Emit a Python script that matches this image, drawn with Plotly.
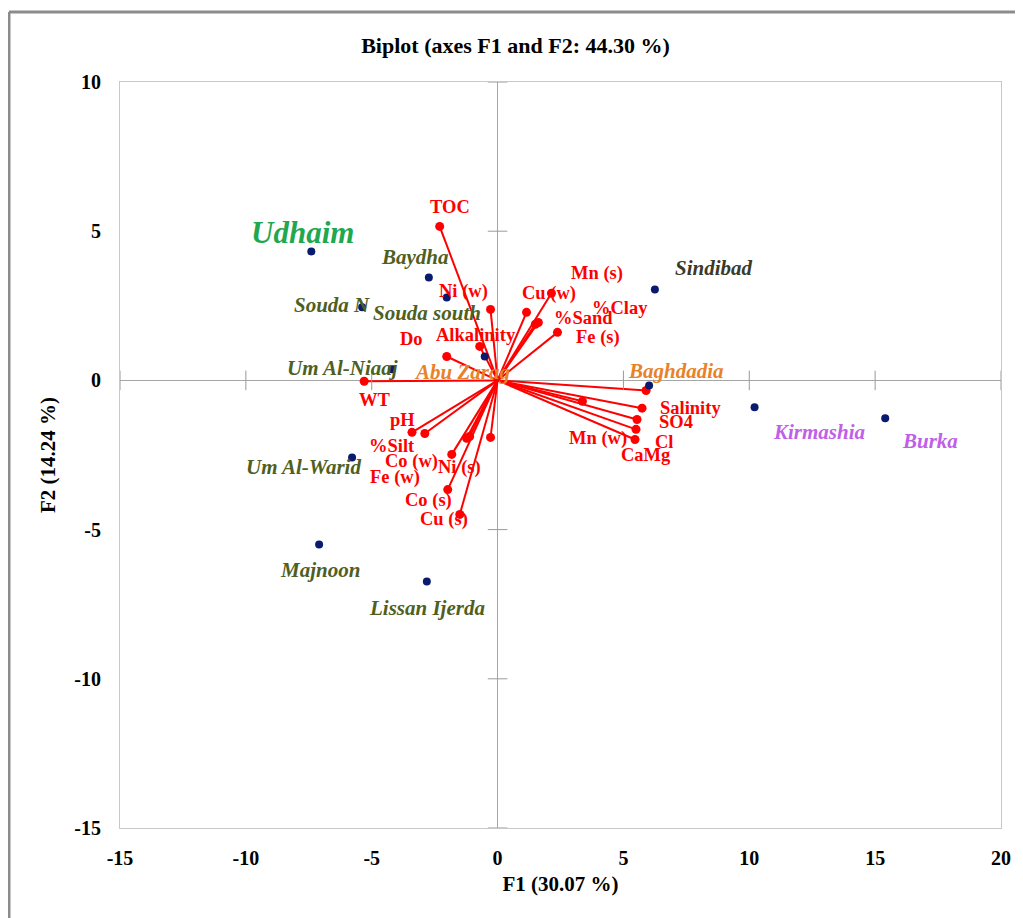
import plotly.graph_objects as go

# ---------------- data ----------------
obs_names = ["Udhaim", "Baydha", "Souda south", "Souda N", "Um Al-Niaaj", "Abu Zarag",
             "Sindibad", "Baghdadia", "Kirmashia", "Burka", "Um Al-Warid", "Majnoon", "Lissan Ijerda"]
obs_f1 = [-7.40, -2.73, -2.02, -5.38, -4.20, -0.51, 6.25, 6.02, 10.21, 15.40, -5.78, -7.09, -2.81]
obs_f2 = [4.32, 3.45, 2.78, 2.45, 0.37, 0.80, 3.05, -0.17, -0.90, -1.27, -2.58, -5.50, -6.74]

var_names = ["TOC", "Ni (w)", "Cu (w)", "Mn (s)", "%Clay", "%Sand", "Fe (s)", "Alkalinity", "Do", "WT",
             "", "Mn (w)", "Salinity", "SO4", "Cl", "CaMg",
             "pH", "%Silt", "Co (w)", "Fe (w)", "", "Ni (s)", "Co (s)", "Cu (s)"]
var_f1 = [-2.30, -0.28, 1.15, 2.14, 1.62, 1.50, 2.38, -0.71, -2.02, -5.30,
          5.90, 3.37, 5.74, 5.54, 5.50, 5.46,
          -3.40, -2.89, -1.82, -1.23, -1.11, -0.28, -1.98, -1.50]
var_f2 = [5.16, 2.38, 2.28, 2.92, 1.94, 1.88, 1.61, 1.14, 0.80, -0.03,
          -0.34, -0.70, -0.93, -1.31, -1.64, -1.98,
          -1.74, -1.78, -2.48, -1.94, -1.88, -1.91, -3.66, -4.49]

x_ticks = [-15, -10, -5, 0, 5, 10, 15, 20]
x_tick_labels = ["-15", "-10", "-5", "0", "5", "10", "15", "20"]
y_ticks = [-15, -10, -5, 0, 5, 10]
y_tick_labels = ["-15", "-10", "-5", "0", "5", "10"]

title = "Biplot (axes F1 and F2: 44.30 %)"
x_title = "F1 (30.07 %)"
y_title = "F2 (14.24 %)"

# ---------------- styles ----------------
FONT = "Liberation Serif"
OLIVE = "#4f5f22"
obs_colors = {"Udhaim": "#1fa84f", "Abu Zarag": "#e8822a", "Baghdadia": "#e8822a",
              "Kirmashia": "#c060e8", "Burka": "#c060e8", "Sindibad": "#3a3a2a"}
obs_sizes = {"Udhaim": 31}
# label offsets in pixels (dx right, dy down)
obs_offsets = {"Udhaim": (-9, -19), "Baydha": (-14, -20), "Souda south": (-20, 16),
               "Souda N": (-30, -2), "Um Al-Niaaj": (-49, -1), "Abu Zarag": (-23, 15),
               "Sindibad": (59, -21), "Baghdadia": (27, -14), "Kirmashia": (64, 25),
               "Burka": (45, 23), "Um Al-Warid": (-49, 10), "Majnoon": (1, 25),
               "Lissan Ijerda": (0, 26)}
var_offsets = [(10, -19), (-27, -18), (22, -19), (46, -20), (82, -15), (48, -6), (41, 5),
               (-4, -11), (-35, -18), (11, 19),
               (0, 0), (16, 37), (48, 0), (39, 3), (28, 13), (11, 16),
               (-9, -12), (-33, 12), (-40, 7), (-72, 39), (0, 0), (-31, 30), (-19, 11), (-16, 5)]

fig = go.Figure()

# vector lines
for vx, vy in zip(var_f1, var_f2):
    fig.add_trace(go.Scatter(x=[0, vx], y=[0, vy], mode="lines",
                             line=dict(color="#ff0000", width=2), hoverinfo="skip",
                             showlegend=False))

# tick crosses on zero axes
fig.add_trace(go.Scatter(x=[t for t in x_ticks if t != 0], y=[0] * (len(x_ticks) - 1),
                         mode="markers", marker=dict(symbol="line-ns-open", size=14, color="#9a9a9a",
                                                     line=dict(color="#9a9a9a", width=1)),
                         hoverinfo="skip", showlegend=False))
fig.add_trace(go.Scatter(x=[0] * (len(y_ticks) - 1), y=[t for t in y_ticks if t != 0],
                         mode="markers", marker=dict(symbol="line-ew-open", size=14, color="#9a9a9a",
                                                     line=dict(color="#9a9a9a", width=1)),
                         hoverinfo="skip", showlegend=False))

# variable points
fig.add_trace(go.Scatter(x=var_f1, y=var_f2, mode="markers",
                         marker=dict(color="#ff0000", size=9), showlegend=False))
# observation points
fig.add_trace(go.Scatter(x=obs_f1, y=obs_f2, mode="markers",
                         marker=dict(color="#0a1a6e", size=8), showlegend=False))

annotations = []
for n, x, y in zip(obs_names, obs_f1, obs_f2):
    dx, dy = obs_offsets[n]
    annotations.append(dict(x=x, y=y, xref="x", yref="y", text=n, showarrow=False,
                            xshift=dx, yshift=-dy,
                            font=dict(family=FONT, size=obs_sizes.get(n, 21),
                                      color=obs_colors.get(n, OLIVE), weight="bold",
                                      style="italic")))
for n, x, y, (dx, dy) in zip(var_names, var_f1, var_f2, var_offsets):
    if not n:
        continue
    annotations.append(dict(x=x, y=y, xref="x", yref="y", text=n, showarrow=False,
                            xshift=dx, yshift=-dy,
                            font=dict(family=FONT, size=18.5, color="#ff0000", weight="bold")))

fig.update_layout(
    width=1015, height=910,
    margin=dict(l=112, r=16, t=74, b=90),
    paper_bgcolor="white", plot_bgcolor="white",
    font=dict(family=FONT, size=18, color="black", weight="bold"),
    title=dict(text=title, x=0.5, xanchor="center", y=0.9593, yanchor="middle",
               font=dict(family=FONT, size=22, weight="bold")),
    annotations=annotations,
    shapes=[dict(type="line", xref="paper", yref="paper", x0=-0.126, x1=1.05, y0=1.094, y1=1.094,
                 line=dict(color="#8c8c8c", width=3)),
            dict(type="line", xref="paper", yref="paper", x0=-0.126, x1=-0.126, y0=1.094, y1=-0.15,
                 line=dict(color="#8c8c8c", width=3))],
    xaxis=dict(range=[-15, 20], tickvals=x_ticks, ticktext=x_tick_labels, showgrid=False,
               zeroline=True, zerolinecolor="#a6a6a6", zerolinewidth=1, showline=True, mirror=True,
               linecolor="#c8c8c8", linewidth=1, ticks="", ticklabelstandoff=12,
               tickfont=dict(family=FONT, size=20, weight="bold"),
               title=dict(text=x_title, standoff=8, font=dict(family=FONT, size=21, weight="bold"))),
    yaxis=dict(range=[-15, 10], tickvals=y_ticks, ticktext=y_tick_labels, showgrid=False,
               zeroline=True, zerolinecolor="#a6a6a6", zerolinewidth=1, showline=True, mirror=True,
               linecolor="#c8c8c8", linewidth=1, ticks="", ticklabelstandoff=14,
               tickfont=dict(family=FONT, size=20, weight="bold"),
               title=dict(text=y_title, standoff=12, font=dict(family=FONT, size=21, weight="bold"))),
)

fig.write_html("out.html")
